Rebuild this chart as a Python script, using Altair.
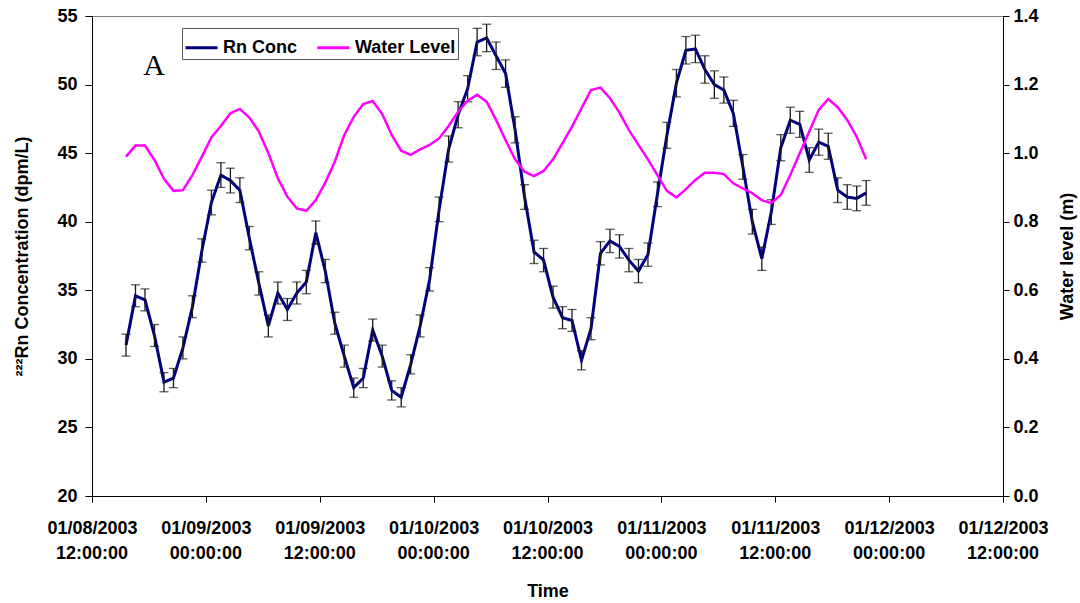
import altair as alt
import pandas as pd

# hourly samples starting 2003-01-08 15:35
start_time = "2003-01-08 15:35"

rn_conc = [31.0, 34.6, 34.3, 31.7, 28.3, 28.6, 30.8, 33.8, 37.9, 41.4,
           43.4, 43.0, 42.3, 38.8, 35.5, 32.4, 34.8, 33.6, 34.8, 35.6,
           39.2, 36.4, 32.6, 30.2, 27.9, 28.6, 32.1, 30.2, 27.7, 27.2,
           29.6, 32.4, 35.8, 40.9, 45.3, 47.8, 49.7, 53.1, 53.4, 52.1,
           50.8, 46.7, 41.8, 37.8, 37.2, 34.5, 33.0, 32.8, 29.9, 32.2,
           37.7, 38.6, 38.2, 37.2, 36.4, 37.6, 42.0, 46.3, 50.1, 52.5,
           52.6, 51.1, 50.0, 49.6, 47.9, 44.0, 40.0, 37.3, 40.7, 45.4,
           47.4, 47.1, 44.5, 45.8, 45.5, 42.3, 41.8, 41.7, 42.1]

rn_err = [0.8, 0.8, 0.8, 0.8, 0.7, 0.7, 0.8, 0.8, 0.85, 0.9,
          0.9, 0.9, 0.9, 0.85, 0.85, 0.8, 0.8, 0.8, 0.8, 0.85,
          0.85, 0.85, 0.8, 0.8, 0.7, 0.7, 0.8, 0.8, 0.7, 0.7,
          0.7, 0.8, 0.85, 0.9, 0.95, 0.95, 0.95, 1.0, 1.0, 1.0,
          1.0, 0.95, 0.9, 0.85, 0.85, 0.8, 0.8, 0.8, 0.7, 0.8,
          0.85, 0.85, 0.85, 0.85, 0.85, 0.85, 0.9, 0.95, 1.0, 1.0,
          1.0, 1.0, 1.0, 0.95, 0.95, 0.9, 0.9, 0.85, 0.9, 0.95,
          0.95, 0.95, 0.9, 0.95, 0.95, 0.9, 0.9, 0.9, 0.9]

water_level = [0.990, 1.022, 1.022, 0.980, 0.925, 0.890, 0.892, 0.936, 0.990, 1.046,
               1.079, 1.116, 1.129, 1.104, 1.063, 1.000, 0.927, 0.873, 0.839, 0.832,
               0.863, 0.914, 0.975, 1.053, 1.106, 1.143, 1.152, 1.114, 1.053, 1.007,
               0.995, 1.011, 1.024, 1.043, 1.079, 1.121, 1.153, 1.170, 1.150, 1.097,
               1.038, 0.982, 0.946, 0.933, 0.948, 0.982, 1.029, 1.077, 1.131, 1.184,
               1.191, 1.160, 1.118, 1.067, 1.024, 0.982, 0.936, 0.890, 0.871, 0.895,
               0.922, 0.943, 0.943, 0.939, 0.912, 0.897, 0.883, 0.863, 0.854, 0.878,
               0.936, 1.000, 1.063, 1.126, 1.158, 1.134, 1.097, 1.048, 0.982]

series_names = ["Rn Conc", "Water Level"]
series_colors = ["#000080", "#FF00FF"]

left_ticks = [20, 25, 30, 35, 40, 45, 50, 55]
right_ticks = [0.0, 0.2, 0.4, 0.6, 0.8, 1.0, 1.2, 1.4]

# x tick positions and their two-line labels
x_tick_times = ["2003-01-08T12:00:00", "2003-01-09T00:00:00", "2003-01-09T12:00:00",
                "2003-01-10T00:00:00", "2003-01-10T12:00:00", "2003-01-11T00:00:00",
                "2003-01-11T12:00:00", "2003-01-12T00:00:00", "2003-01-12T12:00:00"]
x_tick_dates = ["01/08/2003", "01/09/2003", "01/09/2003", "01/10/2003", "01/10/2003",
                "01/11/2003", "01/11/2003", "01/12/2003", "01/12/2003"]
x_tick_clock = ["12:00:00", "00:00:00", "12:00:00", "00:00:00", "12:00:00",
                "00:00:00", "12:00:00", "00:00:00", "12:00:00"]

times = pd.date_range(start_time, periods=len(rn_conc), freq="h").strftime("%Y-%m-%dT%H:%M:%S")

rn_df = pd.DataFrame({"time": times, "rn": rn_conc, "err": rn_err, "series": series_names[0]})
rn_df["lo"] = rn_df["rn"] - rn_df["err"]
rn_df["hi"] = rn_df["rn"] + rn_df["err"]
wl_df = pd.DataFrame({"time": times, "wl": water_level, "series": series_names[1]})
tick_df = pd.DataFrame({"time": x_tick_times, "date": x_tick_dates, "clock": x_tick_clock})

x_ticks = [alt.DateTime(year=2003, month=1, date=8 + (h // 24), hours=h % 24) for h in range(12, 12 + 12 * 9, 12)]
x_scale = alt.Scale(domain=[x_ticks[0], x_ticks[-1]])

FONT = "Liberation Sans"

date_lookup = "{" + ", ".join(f"'{t}': '{d}'" for t, d in zip(x_tick_clock, x_tick_dates)) + "}"

x_axis = alt.Axis(
    values=x_ticks,
    labelExpr="timeFormat(datum.value, '%m/%d/%Y')",
    labelPadding=17,
    labelBaseline="top",
    tickSize=6,
    title="Time",
    titlePadding=45,
    labelFlush=False,
    labelOverlap=False,
)
x_enc = alt.X("time:T", scale=x_scale, axis=x_axis)

yl_scale = alt.Scale(domain=[20, 55], nice=False, zero=False)
yl_axis = alt.Axis(
    values=left_ticks,
    tickSize=7,
    labelPadding=8,
    title="²²²Rn Concentration (dpm/L)",
    titlePadding=25,
)

color_enc = alt.Color(
    "series:N",
    scale=alt.Scale(domain=series_names, range=series_colors),
    legend=alt.Legend(
        title=None,
        orient="none",
        legendX=90,
        legendY=12,
        direction="horizontal",
        symbolType="stroke",
        symbolSize=1024,
        symbolStrokeWidth=3,
        labelFont=FONT,
        labelFontSize=18,
        labelFontWeight="bold",
        labelColor="black",
        labelOffset=4,
        columnPadding=14,
        strokeColor="#555555",
        padding=2,
    ),
)

rn_line = alt.Chart(rn_df).mark_line(strokeWidth=3).encode(
    x=x_enc,
    y=alt.Y("rn:Q", scale=yl_scale, axis=yl_axis),
    color=color_enc,
)

err_rule = alt.Chart(rn_df).mark_rule(color="#1a1a1a", strokeWidth=1.3).encode(
    x=x_enc,
    y=alt.Y("lo:Q", scale=yl_scale, axis=yl_axis),
    y2="hi:Q",
)
cap_lo = alt.Chart(rn_df).mark_tick(color="#1a1a1a", orient="horizontal", size=9, thickness=1.3).encode(
    x=x_enc, y=alt.Y("lo:Q", scale=yl_scale, axis=yl_axis)
)
cap_hi = alt.Chart(rn_df).mark_tick(color="#1a1a1a", orient="horizontal", size=9, thickness=1.3).encode(
    x=x_enc, y=alt.Y("hi:Q", scale=yl_scale, axis=yl_axis)
)

# second line of the x tick labels (clock time)
clock_text = alt.Chart(tick_df).mark_text(
    font=FONT, fontSize=18, fontWeight="bold", color="black", align="center", baseline="top"
).encode(x=x_enc, text="clock:N", y=alt.value(529))

label_a = alt.Chart(pd.DataFrame({"t": ["A"]})).mark_text(
    font="Liberation Serif", fontSize=30, align="center", baseline="middle", color="black"
).encode(text="t:N", x=alt.value(62), y=alt.value(50))

left = alt.layer(rn_line, err_rule, cap_lo, cap_hi, clock_text, label_a)

water = alt.Chart(wl_df).mark_line(strokeWidth=2.5).encode(
    x=x_enc,
    y=alt.Y(
        "wl:Q",
        scale=alt.Scale(domain=[0, 1.4], nice=False),
        axis=alt.Axis(
            orient="right",
            values=right_ticks,
            format=".1f",
            tickSize=6,
            labelPadding=4,
            title="Water level (m)",
            titleAngle=270,
            titlePadding=38,
        ),
    ),
    color=color_enc,
)

chart = (
    alt.layer(left, water)
    .resolve_scale(y="independent")
    .properties(
        width=911,
        height=480,
        autosize=alt.AutoSizeParams(type="none"),
        padding={"left": 92, "top": 16, "right": 77, "bottom": 107},
        background="white",
    )
    .configure_view(stroke="#808080", strokeWidth=1)
    .configure_axis(
        grid=False,
        domainColor="black",
        tickColor="black",
        domainWidth=1,
        tickWidth=1,
        labelFont=FONT,
        labelFontSize=18,
        labelFontWeight="bold",
        labelColor="black",
        titleFont=FONT,
        titleFontSize=18,
        titleFontWeight="bold",
        titleColor="black",
    )
)

chart.save("out.html", embed_options={"renderer": "svg", "actions": False})
